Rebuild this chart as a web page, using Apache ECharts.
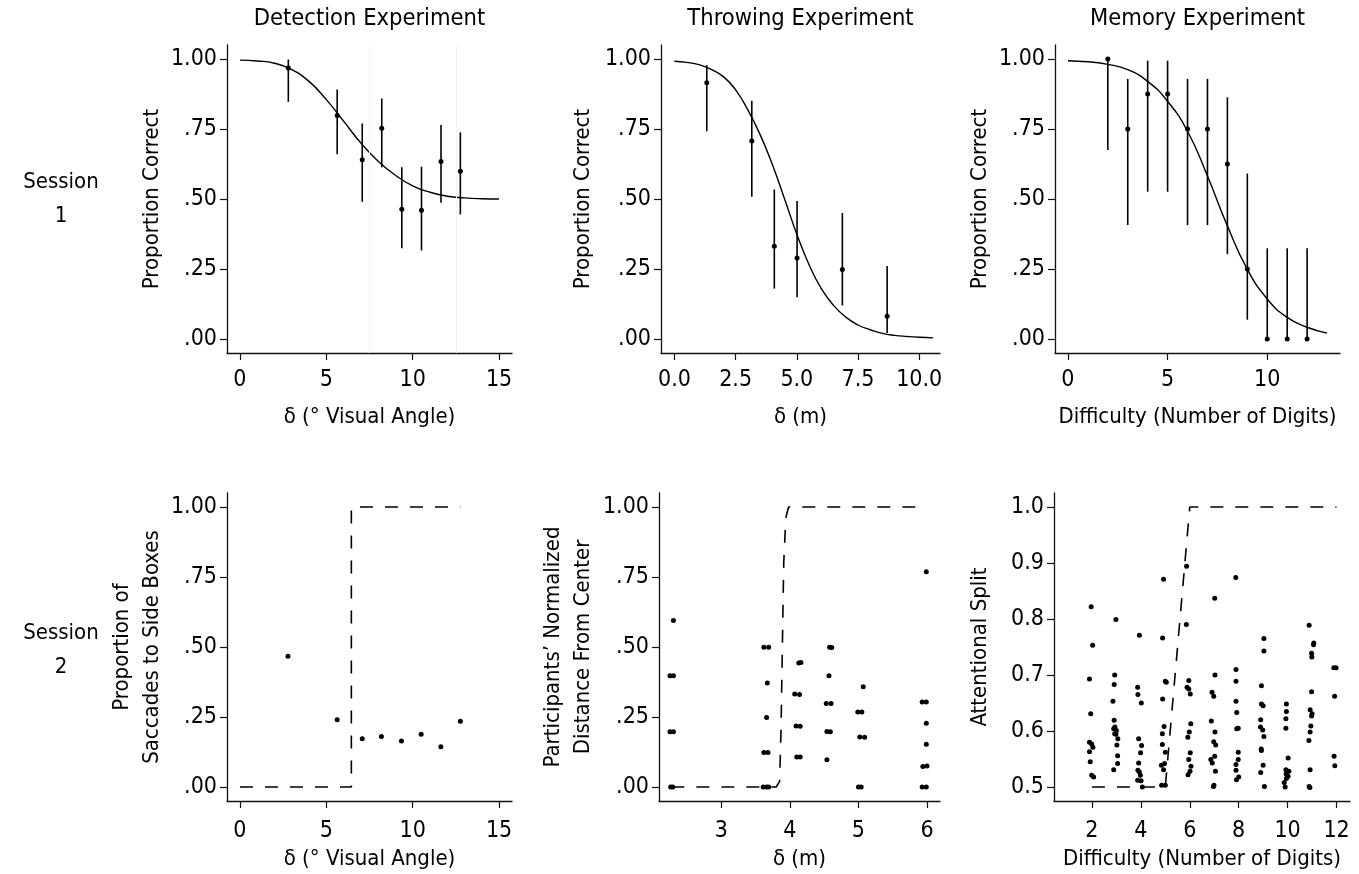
<!DOCTYPE html>
<html>
<head>
<meta charset="utf-8">
<script src="https://cdn.jsdelivr.net/npm/echarts@6/dist/echarts.min.js"></script>
<style>
html,body{margin:0;padding:0;background:#fff;}
#c{width:1359px;height:874px;}
</style>
</head>
<body>
<div id="c"></div>
<script>
// ---------- Session 1 : Detection ----------
const detX  = [2.80, 5.63, 7.08, 8.21, 9.37, 10.51, 11.64, 12.76];
const detY  = [0.968, 0.798, 0.640, 0.753, 0.463, 0.460, 0.634, 0.599];
const detLo = [0.847, 0.660, 0.490, 0.613, 0.324, 0.316, 0.487, 0.445];
const detHi = [0.998, 0.891, 0.770, 0.859, 0.613, 0.615, 0.764, 0.738];
const detFitX = [0, 1, 2, 3, 4, 5, 6, 7, 8, 9, 10, 11, 12, 13, 14, 15];
const detFitY = [0.996, 0.993, 0.985, 0.962, 0.920, 0.855, 0.778, 0.700, 0.635, 0.585, 0.547, 0.524, 0.510, 0.504, 0.501, 0.500];

// ---------- Session 1 : Throwing ----------
const thrX  = [1.32, 3.16, 4.08, 5.01, 6.86, 8.69];
const thrY  = [0.915, 0.707, 0.331, 0.289, 0.248, 0.081];
const thrLo = [0.742, 0.508, 0.180, 0.149, 0.120, 0.021];
const thrHi = [0.978, 0.851, 0.534, 0.493, 0.450, 0.261];
const thrFitX = [0, 0.5, 1, 1.5, 2, 2.5, 3, 3.5, 4, 4.5, 5, 5.5, 6, 6.5, 7, 7.5, 8, 8.5, 9, 9.5, 10, 10.57];
const thrFitY = [0.992, 0.988, 0.980, 0.963, 0.937, 0.890, 0.818, 0.730, 0.623, 0.500, 0.374, 0.265, 0.180, 0.120, 0.078, 0.050, 0.033, 0.020, 0.013, 0.009, 0.006, 0.004];

// ---------- Session 1 : Memory ----------
const memX  = [2, 3, 4, 5, 6, 7, 8, 9, 10, 11, 12];
const memY  = [1.0, 0.75, 0.875, 0.875, 0.75, 0.75, 0.625, 0.25, 0, 0, 0];
const memLo = [0.675, 0.407, 0.526, 0.526, 0.407, 0.407, 0.303, 0.069, 0, 0, 0];
const memHi = [1.0, 0.929, 0.994, 0.994, 0.929, 0.929, 0.863, 0.591, 0.324, 0.324, 0.324];
const memFitX = [0, 1, 2, 3, 4, 5, 6, 7, 8, 9, 10, 11, 12, 13];
const memFitY = [0.994, 0.990, 0.981, 0.962, 0.920, 0.849, 0.742, 0.582, 0.404, 0.249, 0.143, 0.077, 0.042, 0.021];

// ---------- Session 2 : Saccades ----------
const sacX = [2.78, 5.63, 7.08, 8.19, 9.35, 10.49, 11.63, 12.76];
const sacY = [0.467, 0.240, 0.172, 0.180, 0.164, 0.188, 0.144, 0.235];
const sacStepX = [0, 6.45, 6.45, 12.76];
const sacStepY = [0, 0, 1, 1];

// ---------- Session 2 : Throwing distance ----------
const distX = [2.30, 2.25, 2.30, 2.25, 2.30, 2.26, 2.29,
               3.62, 3.69, 3.67, 3.66, 3.62, 3.68, 3.61, 3.66, 3.69,
               4.13, 4.16, 4.07, 4.14, 4.09, 4.15, 4.10, 4.15,
               4.58, 4.61, 4.57, 4.53, 4.60, 4.54, 4.59, 4.54,
               5.07, 4.99, 5.05, 5.02, 5.09, 5.00, 5.04,
               5.99, 5.93, 5.99, 5.99, 5.99, 5.94, 6.00, 5.93, 5.99];
const distY = [0.595, 0.397, 0.397, 0.197, 0.197, 0.000, 0.000,
               0.499, 0.499, 0.371, 0.248, 0.123, 0.123, 0.000, 0.000, 0.000,
               0.443, 0.445, 0.332, 0.330, 0.218, 0.217, 0.107, 0.107,
               0.499, 0.498, 0.397, 0.298, 0.298, 0.198, 0.197, 0.097,
               0.358, 0.268, 0.268, 0.179, 0.178, 0.000, 0.000,
               0.769, 0.304, 0.304, 0.228, 0.153, 0.073, 0.075, 0.000, 0.000];
const distStepX = [2.27, 3.80, 3.85, 3.87, 3.91, 3.94, 3.98, 6.00];
const distStepY = [0, 0, 0.02, 0.20, 0.80, 0.96, 1.00, 1.00];

// ---------- Session 2 : Memory attentional split ----------
const splitX = [1.97, 2.03, 1.90, 1.95, 1.90, 1.99, 2.04, 1.90, 1.93, 1.99, 2.07,
                2.98, 2.93, 2.91, 2.86, 2.91, 2.89, 2.94, 3.00, 2.93, 2.98, 3.06, 3.02, 3.05, 3.05, 2.89,
                3.94, 3.87, 3.88, 4.02, 3.91, 4.03, 3.99, 3.91, 3.88, 3.94, 3.98, 3.87, 4.01, 4.06,
                4.93, 4.89, 5.00, 5.04, 4.89, 4.95, 4.88, 4.88, 5.00, 4.84, 4.97, 4.93, 4.85, 5.00,
                5.87, 5.86, 5.96, 5.89, 5.96, 6.02, 6.04, 5.98, 5.92, 6.02, 5.96, 6.05, 6.01, 5.93,
                7.02, 7.03, 6.91, 6.98, 6.88, 7.03, 6.98, 7.06, 7.02, 6.86, 6.92, 7.05, 6.99, 6.97,
                7.88, 7.89, 7.89, 7.89, 7.92, 7.92, 7.98, 7.98, 7.98, 7.89, 7.89, 8.00, 7.91,
                9.03, 9.03, 8.93, 8.93, 9.00, 8.90, 8.89, 8.98, 9.03, 8.92, 8.93, 9.00, 8.90, 9.05,
                9.95, 9.95, 9.93, 9.93, 10.02, 9.93, 10.05, 9.94, 10.02, 9.95, 9.86, 9.90,
                10.88, 11.07, 11.06, 10.98, 10.99, 10.98, 10.92, 11.00, 10.98, 10.95, 10.92, 10.87, 10.92, 10.88, 10.91,
                11.89, 11.98, 11.92, 11.90, 11.93];
const splitY = [0.822, 0.753, 0.693, 0.631, 0.580, 0.577, 0.571, 0.563, 0.545, 0.521, 0.518,
                0.799, 0.700, 0.683, 0.653, 0.619, 0.604, 0.607, 0.601, 0.595, 0.594, 0.586, 0.575, 0.556, 0.542, 0.531,
                0.771, 0.678, 0.665, 0.650, 0.586, 0.574, 0.561, 0.543, 0.530, 0.527, 0.521, 0.512, 0.511, 0.500,
                0.871, 0.766, 0.689, 0.687, 0.657, 0.608, 0.595, 0.576, 0.562, 0.539, 0.542, 0.531, 0.503, 0.503,
                0.894, 0.790, 0.690, 0.678, 0.675, 0.666, 0.613, 0.598, 0.589, 0.561, 0.549, 0.537, 0.528, 0.522,
                0.837, 0.700, 0.669, 0.662, 0.618, 0.598, 0.581, 0.575, 0.555, 0.549, 0.543, 0.528, 0.503, 0.501,
                0.874, 0.710, 0.689, 0.653, 0.633, 0.604, 0.605, 0.562, 0.549, 0.540, 0.530, 0.518, 0.513,
                0.765, 0.743, 0.681, 0.648, 0.645, 0.620, 0.607, 0.602, 0.590, 0.568, 0.565, 0.539, 0.526, 0.501,
                0.648, 0.635, 0.622, 0.605, 0.552, 0.531, 0.528, 0.523, 0.519, 0.515, 0.508, 0.500,
                0.789, 0.757, 0.754, 0.739, 0.732, 0.670, 0.638, 0.631, 0.627, 0.609, 0.598, 0.583, 0.531, 0.501, 0.499,
                0.713, 0.713, 0.662, 0.555, 0.538];
const splitStepX = [2, 3, 4, 5, 6, 7, 8, 9, 10, 11, 12];
const splitStepY = [0.5, 0.5, 0.5, 0.5, 1, 1, 1, 1, 1, 1, 1];

// ---------- tick labels ----------
const propTicks = [0, 0.25, 0.5, 0.75, 1];
const splitTicks = [0.5, 0.6, 0.7, 0.8, 0.9, 1.0];
const angleTicks = [0, 5, 10, 15];
const meterTicks = [0, 2.5, 5, 7.5, 10];
const digitTicks = [0, 5, 10];
const meter2Ticks = [3, 4, 5, 6];
const digit2Ticks = [2, 4, 6, 8, 10, 12];

const titles = ['Detection Experiment', 'Throwing Experiment', 'Memory Experiment'];
const sessions = ['Session\n1', 'Session\n2'];

const FONT = "'Liberation Sans Narrow', 'DejaVu Sans Condensed', 'Liberation Sans', sans-serif";
const INK = '#111';

const zip = (xs, ys) => xs.map((x, i) => [x, ys[i]]);
const propFmt = v => v === 1 ? '1.00' : v.toFixed(2).replace(/^0/, '');

const grids = [
  {left: 227, top: 45, width: 285, height: 308},
  {left: 661, top: 45, width: 279, height: 308},
  {left: 1055, top: 45, width: 285, height: 308},
  {left: 227, top: 493, width: 285, height: 308},
  {left: 659, top: 493, width: 281, height: 308},
  {left: 1054, top: 493, width: 296, height: 308}
];

function xAxis(i, min, max, ticks, fmt, name, gap, margin) {
  return {
    type: 'value', gridIndex: i, min: min, max: max,
    axisLine: {show: true, onZero: false, lineStyle: {color: INK, width: 1.3}},
    axisTick: {show: true, length: 7, customValues: ticks, lineStyle: {color: INK, width: 1.2}},
    axisLabel: {show: true, customValues: ticks, formatter: fmt, margin: margin,
                fontFamily: FONT, fontSize: 23, color: '#000'},
    splitLine: {show: false},
    name: name, nameLocation: 'middle', nameGap: gap,
    nameTextStyle: {fontFamily: FONT, fontSize: 22, color: '#000'}
  };
}
function yAxis(i, min, max, ticks, fmt, name, gap) {
  return {
    type: 'value', gridIndex: i, min: min, max: max,
    axisLine: {show: true, onZero: false, lineStyle: {color: INK, width: 1.3}},
    axisTick: {show: true, length: 7, customValues: ticks, lineStyle: {color: INK, width: 1.2}},
    axisLabel: {show: true, customValues: ticks, formatter: fmt, margin: 10,
                fontFamily: FONT, fontSize: 23, color: '#000'},
    splitLine: {show: false},
    name: name, nameLocation: 'middle', nameGap: gap, nameRotate: 90,
    nameTextStyle: {fontFamily: FONT, fontSize: 22, color: '#000', lineHeight: 30}
  };
}

function errBars(i, xs, lo, hi) {
  return {
    type: 'custom', xAxisIndex: i, yAxisIndex: i, silent: true, z: 2,
    data: xs.map((x, k) => [x, lo[k], hi[k]]),
    encode: {x: 0, y: [1, 2]},
    renderItem: function (params, api) {
      const a = api.coord([api.value(0), api.value(1)]);
      const b = api.coord([api.value(0), api.value(2)]);
      return {type: 'line', shape: {x1: a[0], y1: a[1], x2: b[0], y2: b[1]},
              style: {stroke: '#000', lineWidth: 1.6}};
    }
  };
}
function dots(i, xs, ys) {
  return {type: 'scatter', xAxisIndex: i, yAxisIndex: i, symbol: 'circle', symbolSize: 5,
          itemStyle: {color: '#000', opacity: 1}, data: zip(xs, ys), z: 3, silent: true};
}
function fit(i, xs, ys) {
  return {type: 'line', xAxisIndex: i, yAxisIndex: i, data: zip(xs, ys), showSymbol: false,
          smooth: 0.5, lineStyle: {color: '#000', width: 1.4}, z: 4, silent: true};
}
function step(i, xs, ys) {
  return {type: 'line', xAxisIndex: i, yAxisIndex: i, data: zip(xs, ys), showSymbol: false,
          lineStyle: {color: '#000', width: 1.6, type: [13, 12]}, z: 4, silent: true};
}

const colCenters = [369.5, 800.5, 1197.5];
const gfx = [];
titles.forEach((t, k) => gfx.push({type: 'text', x: colCenters[k], y: 19,
  style: {text: t, fontFamily: FONT, fontSize: 23.5, fill: '#000', align: 'center', verticalAlign: 'middle'}}));
[199, 650].forEach((yy, k) => gfx.push({type: 'text', x: 61, y: yy,
  style: {text: sessions[k], fontFamily: FONT, fontSize: 22, lineHeight: 34, fill: '#000', align: 'center', verticalAlign: 'middle'}}));

const option = {
  animation: false,
  backgroundColor: '#fff',
  grid: grids,
  graphic: gfx,
  xAxis: [
    xAxis(0, -0.75, 15.75, angleTicks, v => String(v), 'δ (° Visual Angle)', 53, 16),
    xAxis(1, -0.55, 10.85, meterTicks, v => v.toFixed(1), 'δ (m)', 53, 16),
    xAxis(2, -0.65, 13.65, digitTicks, v => String(v), 'Difficulty (Number of Digits)', 53, 16),
    xAxis(3, -0.75, 15.75, angleTicks, v => String(v), 'δ (° Visual Angle)', 47, 19),
    xAxis(4, 2.09, 6.19, meter2Ticks, v => String(v), 'δ (m)', 47, 19),
    xAxis(5, 0.45, 12.55, digit2Ticks, v => String(v), 'Difficulty (Number of Digits)', 47, 19)
  ],
  yAxis: [
    yAxis(0, -0.05, 1.05, propTicks, propFmt, 'Proportion Correct', 59),
    yAxis(1, -0.05, 1.05, propTicks, propFmt, 'Proportion Correct', 63),
    yAxis(2, -0.05, 1.05, propTicks, propFmt, 'Proportion Correct', 59),
    yAxis(3, -0.05, 1.05, propTicks, propFmt, 'Proportion of\nSaccades to Side Boxes', 59),
    yAxis(4, -0.05, 1.05, propTicks, propFmt, 'Participants’ Normalized\nDistance From Center', 61),
    yAxis(5, 0.475, 1.025, splitTicks, v => v.toFixed(1), 'Attentional Split', 59)
  ],
  series: [
    Object.assign(fit(0, detFitX, detFitY), {
      markLine: {silent: true, symbol: 'none', label: {show: false},
                 lineStyle: {color: '#f2f2f2', type: 'solid', width: 1},
                 data: [{xAxis: 7.5}, {xAxis: 12.5}]}
    }),
    errBars(0, detX, detLo, detHi), dots(0, detX, detY),
    fit(1, thrFitX, thrFitY), errBars(1, thrX, thrLo, thrHi), dots(1, thrX, thrY),
    fit(2, memFitX, memFitY), errBars(2, memX, memLo, memHi), dots(2, memX, memY),
    step(3, sacStepX, sacStepY), dots(3, sacX, sacY),
    step(4, distStepX, distStepY), dots(4, distX, distY),
    step(5, splitStepX, splitStepY), dots(5, splitX, splitY)
  ]
};

const chart = echarts.init(document.getElementById('c'), null, {renderer: 'canvas'});
chart.setOption(option);
</script>
</body>
</html>
